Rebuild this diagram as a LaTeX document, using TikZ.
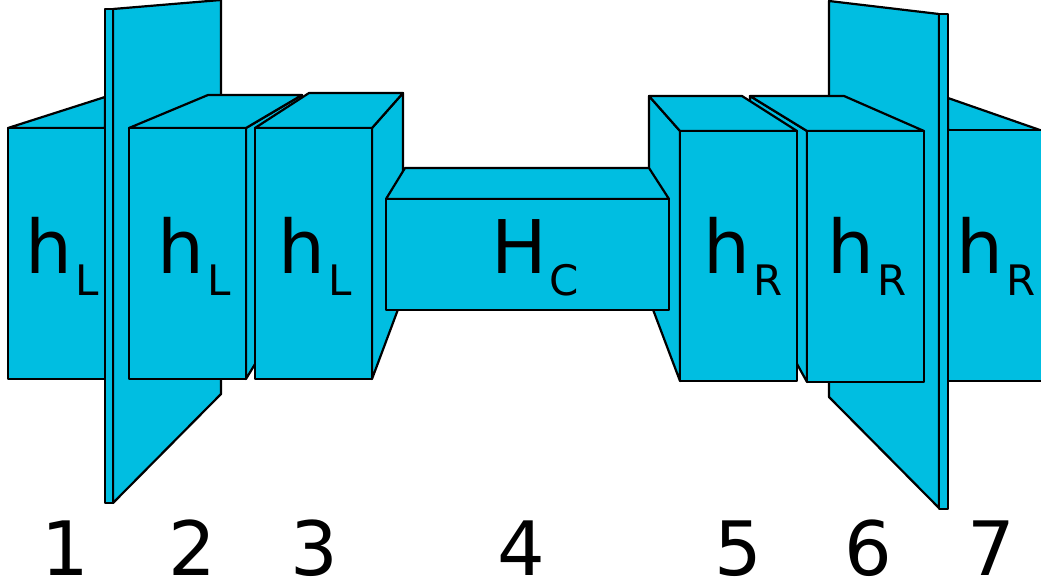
\documentclass[tikz,border=0pt]{standalone}
\usepackage{fontspec}
\setmainfont{DejaVu Sans}
\definecolor{layercyan}{RGB}{0,190,225}
\newcommand{\sublab}[2]{{\fontsize{74}{74}\selectfont #1}\hspace{3pt}\raisebox{-22pt}{\fontsize{42}{42}\selectfont #2}}

\begin{document}
\begin{tikzpicture}[x=1pt, y=-1pt,
  face/.style={draw, fill=layercyan, line width=2.2pt, line join=round},
  boxlabel/.style={anchor=base, inner sep=0pt},
  numlabel/.style={anchor=base, inner sep=0pt, font=\fontsize{75}{75}\selectfont}]
  \useasboundingbox (0,0) rectangle (1041,586);
  \begin{scope}
  \clip (0,0) rectangle (1041,586);
  % left side
  \draw[face] (8,128) -- (105,97) -- (105,128) -- cycle;
  \draw[face] (8,128) rectangle (105,379);
  \draw[face] (113,9) -- (221,0) -- (221,394) -- (113,503) -- cycle;
  \draw[face] (105,9) rectangle (113,503);
  \draw[face] (246,128) -- (302,95) -- (302,286) -- (246,379) -- cycle;
  \draw[face] (129,128) -- (208,95) -- (302,95) -- (246,128) -- cycle;
  \draw[face] (129,128) rectangle (246,379);
  \draw[face] (372,128) -- (403,93) -- (403,296) -- (372,379) -- cycle;
  \draw[face] (255,128) -- (309,93) -- (403,93) -- (372,128) -- cycle;
  \draw[face] (255,128) rectangle (372,379);
  % right side
  \draw[face] (948,98) -- (1060,137) -- (948,130) -- cycle;
  \draw[face] (948,130) rectangle (1060,381);
  \draw[face] (829,1) -- (939,14) -- (939,508) -- (829,397) -- cycle;
  \draw[face] (939,14) rectangle (948,509);
  \draw[face] (750,96) -- (807,131) -- (807,382) -- (750,279) -- cycle;
  \draw[face] (750,96) -- (844,96) -- (924,131) -- (807,131) -- cycle;
  \draw[face] (807,131) rectangle (924,382);
  \draw[face] (649,96) -- (680,131) -- (680,381) -- (649,299) -- cycle;
  \draw[face] (649,96) -- (742,96) -- (797,131) -- (680,131) -- cycle;
  \draw[face] (680,131) rectangle (797,381);
  % centre
  \draw[face] (386,199) -- (405,168) -- (649,168) -- (669,199) -- cycle;
  \draw[face] (386,199) rectangle (669,310);
  \end{scope}
  % labels
  \node[boxlabel] (hl1) at (62,273) {\sublab{h}{L}};
  \node[boxlabel] (hl2) at (194,273) {\sublab{h}{L}};
  \node[boxlabel] (hl3) at (315,273) {\sublab{h}{L}};
  \node[boxlabel] (hc) at (535,273) {\sublab{H}{C}};
  \node[boxlabel] (hr5) at (743,273) {\sublab{h}{R}};
  \node[boxlabel] (hr6) at (867,273) {\sublab{h}{R}};
  \node[boxlabel] (hr7) at (996,273) {\sublab{h}{R}};
  \foreach \n/\x in {1/65, 2/192, 3/314, 4/521, 5/738, 6/868, 7/991}
    \node[numlabel] (num\n) at (\x,575) {\n};
\end{tikzpicture}
\end{document}
